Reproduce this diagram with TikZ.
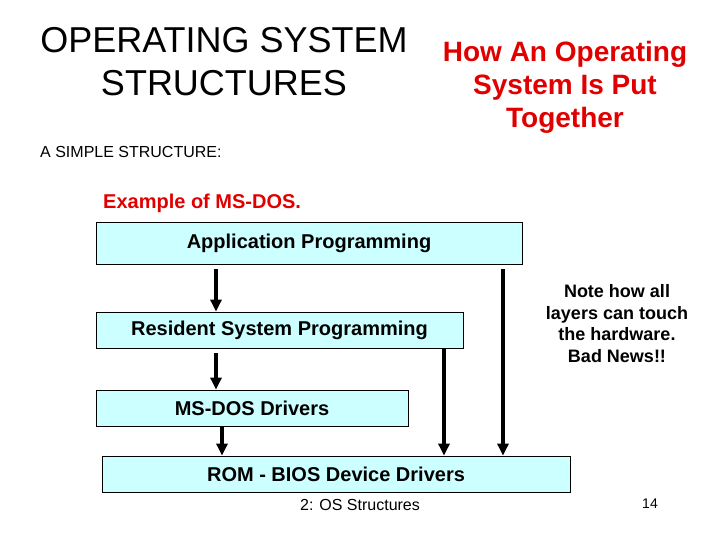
\documentclass[tikz,border=0pt]{standalone}
\usepackage{fontspec}
\setmainfont{Liberation Sans}
\usetikzlibrary{arrows.meta}

\definecolor{layerfill}{RGB}{204,255,255}
\definecolor{slidered}{RGB}{225,0,0}

\begin{document}
\begin{tikzpicture}[x=1pt,y=1pt,yscale=-1,xscale=1,
  layer/.style={draw=black, line width=0.8pt, fill=layerfill, inner sep=0pt,
    font=\fontsize{20}{24}\selectfont\bfseries},
  down/.style={line width=3.8pt, -{Triangle[length=12pt,width=11pt]}},
  redtext/.style={color=slidered, font=\fontsize{28}{33}\selectfont\bfseries, align=center, inner sep=0pt}]
\useasboundingbox (0,0) rectangle (720,540);

% Text Node (base = last line)
\node[align=center, inner sep=0pt, font=\fontsize{36}{43}\selectfont, anchor=base] (title) at (224,96) {OPERATING SYSTEM\\STRUCTURES};
% Text Node
\node[redtext, anchor=base] (subtitle) at (565,128) {How An Operating\\System Is Put\\Together};
% Text Node
\node[inner sep=0pt, anchor=base west, font=\fontsize{16}{19}\selectfont] (simple) at (40,158) {A SIMPLE STRUCTURE:};
% Text Node
\node[inner sep=0pt, anchor=base west, color=slidered, font=\fontsize{20}{24}\selectfont\bfseries] (example) at (103,208) {Example of MS-DOS.};

% Layers
\node[layer, minimum width=426pt, minimum height=42pt] (app) at (309,243) {Application Programming};
\node[layer, minimum width=367pt, minimum height=36pt] (res) at (279.5,330) {Resident System Programming};
\node[layer, minimum width=312pt, minimum height=36pt] (drv) at (252,408) {MS-DOS Drivers};
\node[layer, minimum width=468pt, minimum height=36pt] (rom) at (336,474) {ROM - BIOS Device Drivers};

% Text Node
\node[align=center, inner sep=0pt, font=\fontsize{18}{21.5}\selectfont\bfseries, anchor=base] (note) at (617,362) {Note how all\\layers can touch\\the hardware.\\Bad News!!};
% Text Node
\node[inner sep=0pt, anchor=base, font=\fontsize{16}{19}\selectfont] (footer) at (360,510) {2: OS Structures};
% Text Node
\node[inner sep=0pt, anchor=base, font=\fontsize{14}{17}\selectfont] (page) at (650,508) {14};

%Straight Lines
\coordinate (c1) at (216,0);
\coordinate (c2) at (222,0);
\coordinate (c3) at (444,0);
\coordinate (c4) at (503,0);
\draw[down, shorten <=5pt] (app.south -| c1) -- (res.north -| c1);
\draw[down, shorten <=5pt] (res.south -| c1) -- (drv.north -| c1);
\draw[down] (drv.south -| c2) -- (rom.north -| c2);
\draw[down] (res.south -| c3) -- (rom.north -| c3);
\draw[down, shorten <=5pt] (app.south -| c4) -- (rom.north -| c4);

\end{tikzpicture}
\end{document}
